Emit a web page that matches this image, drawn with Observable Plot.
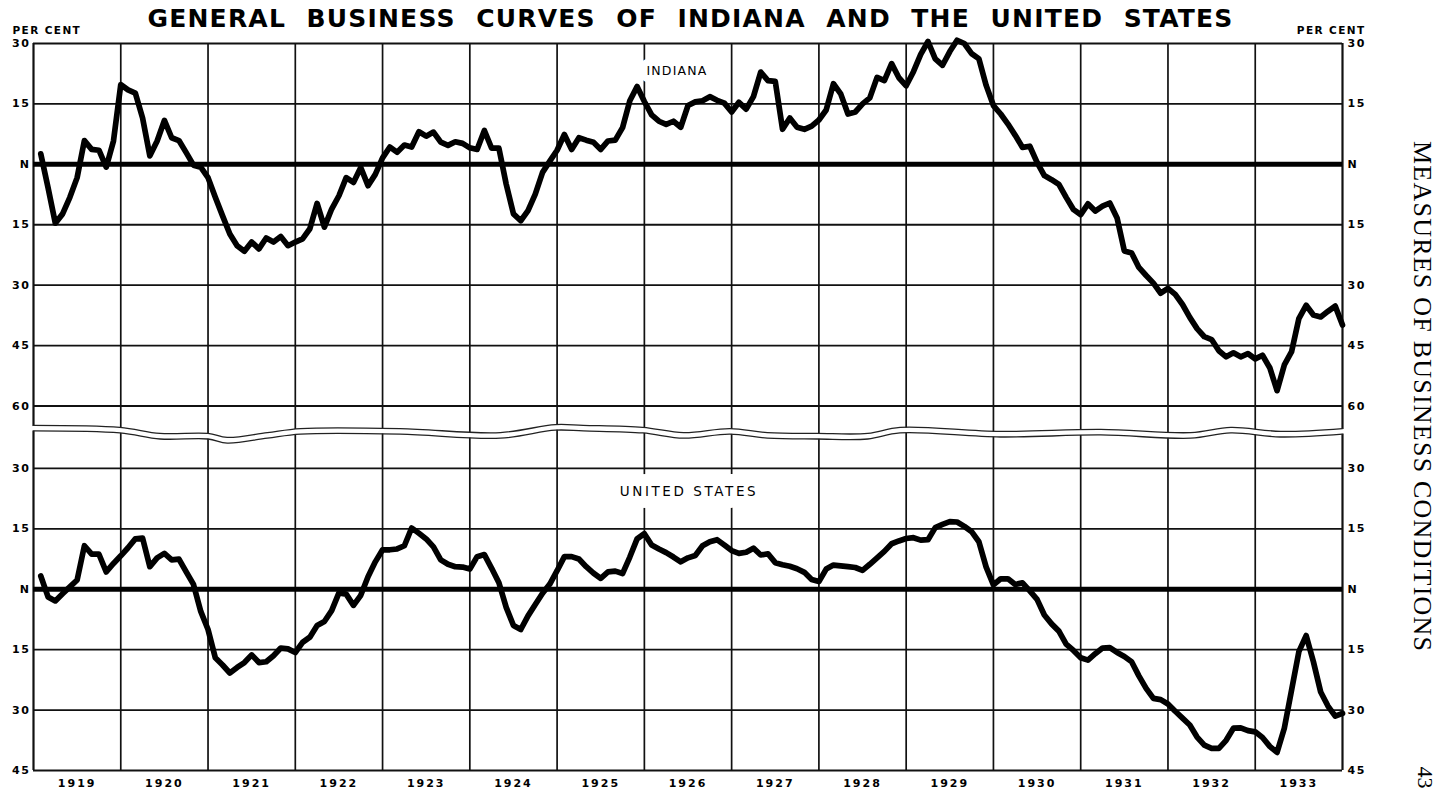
<!DOCTYPE html>
<html>
<head>
<meta charset="utf-8">
<script src="https://cdn.jsdelivr.net/npm/d3@7"></script>
<script src="https://cdn.jsdelivr.net/npm/@observablehq/plot@0.6"></script>
<style>
  html, body { margin: 0; padding: 0; background: #fff; }
  #chart svg { display: block; }
</style>
</head>
<body>
<div id="chart"></div>
<script>
// ---------------- data ----------------
const startYear = 1919;
const yearLabels = [1919, 1920, 1921, 1922, 1923, 1924, 1925, 1926, 1927, 1928, 1929, 1930, 1931, 1932, 1933];
const yearBoundaries = [1920, 1921, 1922, 1923, 1924, 1925, 1926, 1927, 1928, 1929, 1930, 1931, 1932, 1933];

// Indiana, monthly per cent deviation from normal, Jan 1919 – Dec 1933
const indiana = [
  2.6, -5.8, -14.6, -12.3, -8.2, -3.3, 5.9, 3.7, 3.5, -0.7, 5.8, 19.8,        // 1919
  18.5, 17.7, 11.5, 2.1, 5.8, 10.9, 6.6, 5.9, 2.9, -0.2, -0.7, -3.3,          // 1920
  -8.2, -12.8, -17.3, -20.2, -21.6, -19.3, -21.0, -18.3, -19.3, -17.9, -20.2, -19.3, // 1921
  -18.5, -16.0, -9.7, -15.6, -11.1, -7.8, -3.3, -4.5, -0.8, -5.3, -2.5, 1.6,  // 1922
  4.3, 3.0, 4.8, 4.3, 8.1, 7.0, 8.0, 5.5, 4.7, 5.6, 5.2, 4.1,                // 1923
  3.7, 8.4, 4.0, 4.0, -4.9, -12.3, -14.0, -11.5, -7.4, -2.0, 0.8, 3.5,       // 1924
  7.4, 3.7, 6.6, 6.0, 5.5, 3.7, 5.8, 6.0, 9.1, 15.8, 19.3, 15.6,             // 1925
  12.3, 10.7, 9.9, 10.7, 9.2, 14.6, 15.5, 15.8, 16.8, 15.9, 15.2, 13.0,      // 1926
  15.4, 13.7, 16.8, 22.9, 20.8, 20.6, 8.7, 11.5, 9.2, 8.7, 9.5, 11.0,        // 1927
  13.5, 20.0, 17.5, 12.5, 13.0, 15.0, 16.5, 21.6, 20.8, 25.0, 21.5, 19.5,    // 1928
  23.0, 27.3, 30.5, 26.2, 24.6, 28.0, 30.8, 30.0, 27.5, 26.2, 19.6, 14.6,    // 1929
  12.5, 10.0, 7.2, 4.2, 4.5, 0.5, -2.8, -3.8, -5.0, -8.2, -11.2, -12.5,      // 1930
  -9.8, -11.6, -10.4, -9.6, -13.3, -21.5, -22.0, -25.6, -27.6, -29.5, -32.0, -30.8, // 1931
  -32.3, -34.8, -38.0, -40.8, -42.8, -43.5, -46.3, -47.8, -46.8, -47.8, -47.0, -48.3, // 1932
  -47.4, -50.5, -56.2, -49.8, -46.5, -38.3, -35.0, -37.4, -37.9, -36.5, -35.2, -39.9  // 1933
];

// United States, monthly per cent deviation from normal, Jan 1919 – Dec 1933
const unitedStates = [
  3.3, -1.9, -2.9, -1.1, 0.6, 2.3, 10.8, 8.7, 8.7, 4.3, 6.4, 8.3,            // 1919
  10.3, 12.5, 12.7, 5.6, 7.8, 8.9, 7.3, 7.5, 4.3, 1.2, -5.5, -10.0,          // 1920
  -17.0, -18.8, -20.8, -19.4, -18.2, -16.3, -18.2, -18.0, -16.5, -14.6, -14.8, -15.7, // 1921
  -13.2, -11.9, -9.0, -8.0, -5.3, -0.9, -1.2, -4.0, -1.5, 3.1, 6.8, 9.8,     // 1922
  9.8, 10.0, 10.8, 15.2, 13.9, 12.5, 10.5, 7.3, 6.2, 5.6, 5.5, 5.0,          // 1923
  8.1, 8.6, 5.2, 1.6, -4.5, -9.0, -10.0, -6.6, -3.8, -1.0, 1.3, 4.6,         // 1924
  8.1, 8.1, 7.5, 5.6, 4.0, 2.7, 4.3, 4.5, 3.9, 8.0, 12.5, 13.8,              // 1925
  11.0, 10.0, 9.1, 8.0, 6.8, 7.8, 8.4, 10.8, 11.8, 12.3, 11.0, 9.6,          // 1926
  8.9, 9.2, 10.2, 8.5, 8.8, 6.6, 6.1, 5.7, 5.1, 4.2, 2.4, 1.9,               // 1927
  5.0, 6.0, 5.8, 5.6, 5.4, 4.7, 6.2, 7.8, 9.4, 11.3, 12.0, 12.6,             // 1928
  12.8, 12.2, 12.3, 15.3, 16.1, 16.8, 16.7, 15.6, 14.3, 11.8, 5.5, 1.1,      // 1929
  2.6, 2.6, 1.2, 1.6, -0.4, -2.5, -6.4, -8.6, -10.4, -13.6, -15.2, -17.0,    // 1930
  -17.6, -16.0, -14.6, -14.5, -15.7, -16.7, -18.0, -21.5, -24.6, -27.1, -27.4, -28.5, // 1931
  -30.3, -32.0, -33.7, -36.7, -38.7, -39.5, -39.5, -37.5, -34.5, -34.4, -35.1, -35.4, // 1932
  -36.8, -39.0, -40.5, -34.5, -25.0, -15.5, -11.5, -18.0, -25.5, -29.0, -31.5, -30.8  // 1933
];

const indianaTicks = [30, 15, 0, -15, -30, -45, -60];
const usTicks = [30, 15, 0, -15, -30, -45];

// scale-break line between the two panels (read along its course)
const breakYears = [1919.0, 1919.99, 1920.45, 1921.0, 1921.22, 1921.68, 1922.06, 1923.2, 1924.35, 1924.98, 1925.3, 1925.98,
                    1926.45, 1926.98, 1927.41, 1927.98, 1928.56, 1928.93, 1930.08, 1931.23, 1932.26, 1932.72, 1933.29, 1934.0];
const breakLevels = [-65.5, -66.0, -67.5, -67.5, -68.5, -67.3, -66.3, -66.3, -67.3, -65.3, -65.5, -66.0,
                     -67.3, -66.3, -67.3, -67.5, -67.5, -66.0, -67.0, -66.5, -67.3, -66.0, -67.0, -66.3];

const titleText = "GENERAL BUSINESS CURVES OF INDIANA AND THE UNITED STATES";
const runningHead = "MEASURES OF BUSINESS CONDITIONS";
const pageNumber = "43";
const unitLabel = "PER CENT";
const seriesNames = ["INDIANA", "UNITED STATES"];

// ---------------- layout ----------------
const US_SHIFT = -105.5;          // the U.S. panel sits below the Indiana panel on one shared scale
const Y_TOP = 30, Y_BOTTOM = -150.5;
const fmt = d => d === 0 ? "N" : String(Math.abs(d));

const indianaRows = indiana.map((v, i) => ({t: startYear + (i + 1) / 12, v}));
const usRows = unitedStates.map((v, i) => ({t: startYear + (i + 1) / 12, v: v + US_SHIFT}));
const tickRows = [
  ...indianaTicks.map(d => ({v: d, tick: d, label: fmt(d)})),
  ...usTicks.map(d => ({v: d + US_SHIFT, tick: d, label: fmt(d)}))
];
const breakRows = breakYears.map((t, i) => ({t, v: breakLevels[i]}));

const sans = "DejaVu Sans";

const chart = Plot.plot({
  width: 1443,
  height: 792,
  marginLeft: 33,
  marginRight: 101,
  marginTop: 43,
  marginBottom: 22,
  x: {domain: [1919, 1934], axis: null},
  y: {domain: [Y_BOTTOM, Y_TOP], axis: null},
  style: {fontFamily: sans, background: "white", color: "black"},
  marks: [
    Plot.ruleY(tickRows.filter(d => d.tick !== 0), {y: "v", stroke: "#111", strokeWidth: 1.9}),
    Plot.ruleX(yearBoundaries, {stroke: "#111", strokeWidth: 1.7}),
    Plot.ruleX([1919, 1934], {stroke: "#111", strokeWidth: 2.2}),
    Plot.ruleY(tickRows.filter(d => d.tick === 0), {y: "v", stroke: "#000", strokeWidth: 5}),
    // scale break
    Plot.line(breakRows, {x: "t", y: "v", stroke: "white", strokeWidth: 5, curve: "catmull-rom"}),
    Plot.line(breakRows, {x: "t", y: "v", dy: -2.8, stroke: "#222", strokeWidth: 1.3, curve: "catmull-rom"}),
    Plot.line(breakRows, {x: "t", y: "v", dy: 2.8, stroke: "#222", strokeWidth: 1.3, curve: "catmull-rom"}),
    // curves
    Plot.line(indianaRows, {x: "t", y: "v", stroke: "#000", strokeWidth: 5.7, strokeLinejoin: "round", strokeLinecap: "round"}),
    Plot.line(usRows, {x: "t", y: "v", stroke: "#000", strokeWidth: 5.7, strokeLinejoin: "round", strokeLinecap: "round"}),
    // series labels
    Plot.text([seriesNames[0]], {frameAnchor: "top", textAnchor: "middle", lineAnchor: "middle", dx: -11, dy: 27,
      fontSize: 12.5, fill: "#000", stroke: "white", strokeWidth: 14}),
    Plot.text([seriesNames[1]], {frameAnchor: "top", textAnchor: "middle", lineAnchor: "middle", dx: 1, dy: 448,
      fontSize: 13.5, fill: "#000", stroke: "white", strokeWidth: 24}),
    // y tick labels, both sides
    Plot.text(tickRows, {y: "v", text: "label", frameAnchor: "left", textAnchor: "end", lineAnchor: "middle", dx: -3,
      fontSize: 11, fontWeight: "bold"}),
    Plot.text(tickRows, {y: "v", text: "label", frameAnchor: "right", textAnchor: "start", lineAnchor: "middle", dx: 5,
      fontSize: 11, fontWeight: "bold"}),
    // year labels
    Plot.text(yearLabels, {x: d => d + 0.5, text: d => String(d), frameAnchor: "bottom", textAnchor: "middle",
      lineAnchor: "middle", dy: 13, fontSize: 11, fontWeight: "bold"}),
    // PER CENT
    Plot.text([unitLabel], {frameAnchor: "top-left", textAnchor: "start", lineAnchor: "middle", dx: -21, dy: -13,
      fontSize: 10.5, fontWeight: "bold"}),
    Plot.text([unitLabel], {frameAnchor: "top-right", textAnchor: "end", lineAnchor: "middle", dx: 23, dy: -13,
      fontSize: 10.5, fontWeight: "bold"}),
    // title
    Plot.text([titleText], {frameAnchor: "top", textAnchor: "middle", lineAnchor: "middle", dx: 2.5, dy: -25,
      fontSize: 25, fontWeight: "bold", fontFamily: sans}),
    // running head on the page edge
    Plot.text([runningHead], {frameAnchor: "right", textAnchor: "middle", lineAnchor: "middle", dx: 80, dy: -11,
      rotate: 90, fontSize: 26, fontFamily: "Liberation Serif"}),
    Plot.text([pageNumber], {frameAnchor: "bottom-right", textAnchor: "middle", lineAnchor: "middle", dx: 83, dy: 7,
      rotate: 90, fontSize: 22, fontFamily: "Liberation Serif"})
  ]
});

document.getElementById("chart").appendChild(chart);

// text finishing touches (spacing as set in the original lettering)
const tickSet = new Set(tickRows.map(d => d.label));
d3.select(chart).selectAll("text").each(function() {
  const t = this.textContent;
  const s = d3.select(this);
  if (t === titleText) {
    s.style("letter-spacing", "1.2px").style("word-spacing", "0px");
    const w = this.getComputedTextLength();
    const gaps = titleText.split(" ").length - 1;
    s.style("word-spacing", `${Math.max(0, (1086 - w) / gaps)}px`);
  }
  else if (t === runningHead) s.attr("textLength", 510).attr("lengthAdjust", "spacing");
  else if (t === unitLabel) s.style("letter-spacing", "1.4px");
  else if (t === seriesNames[0]) s.style("letter-spacing", "1.2px");
  else if (t === seriesNames[1]) s.style("letter-spacing", "2.6px");
  else if (/^19\d\d$/.test(t)) s.style("letter-spacing", "2px");
  else if (tickSet.has(t)) s.style("letter-spacing", "1.6px");
});
</script>
</body>
</html>
